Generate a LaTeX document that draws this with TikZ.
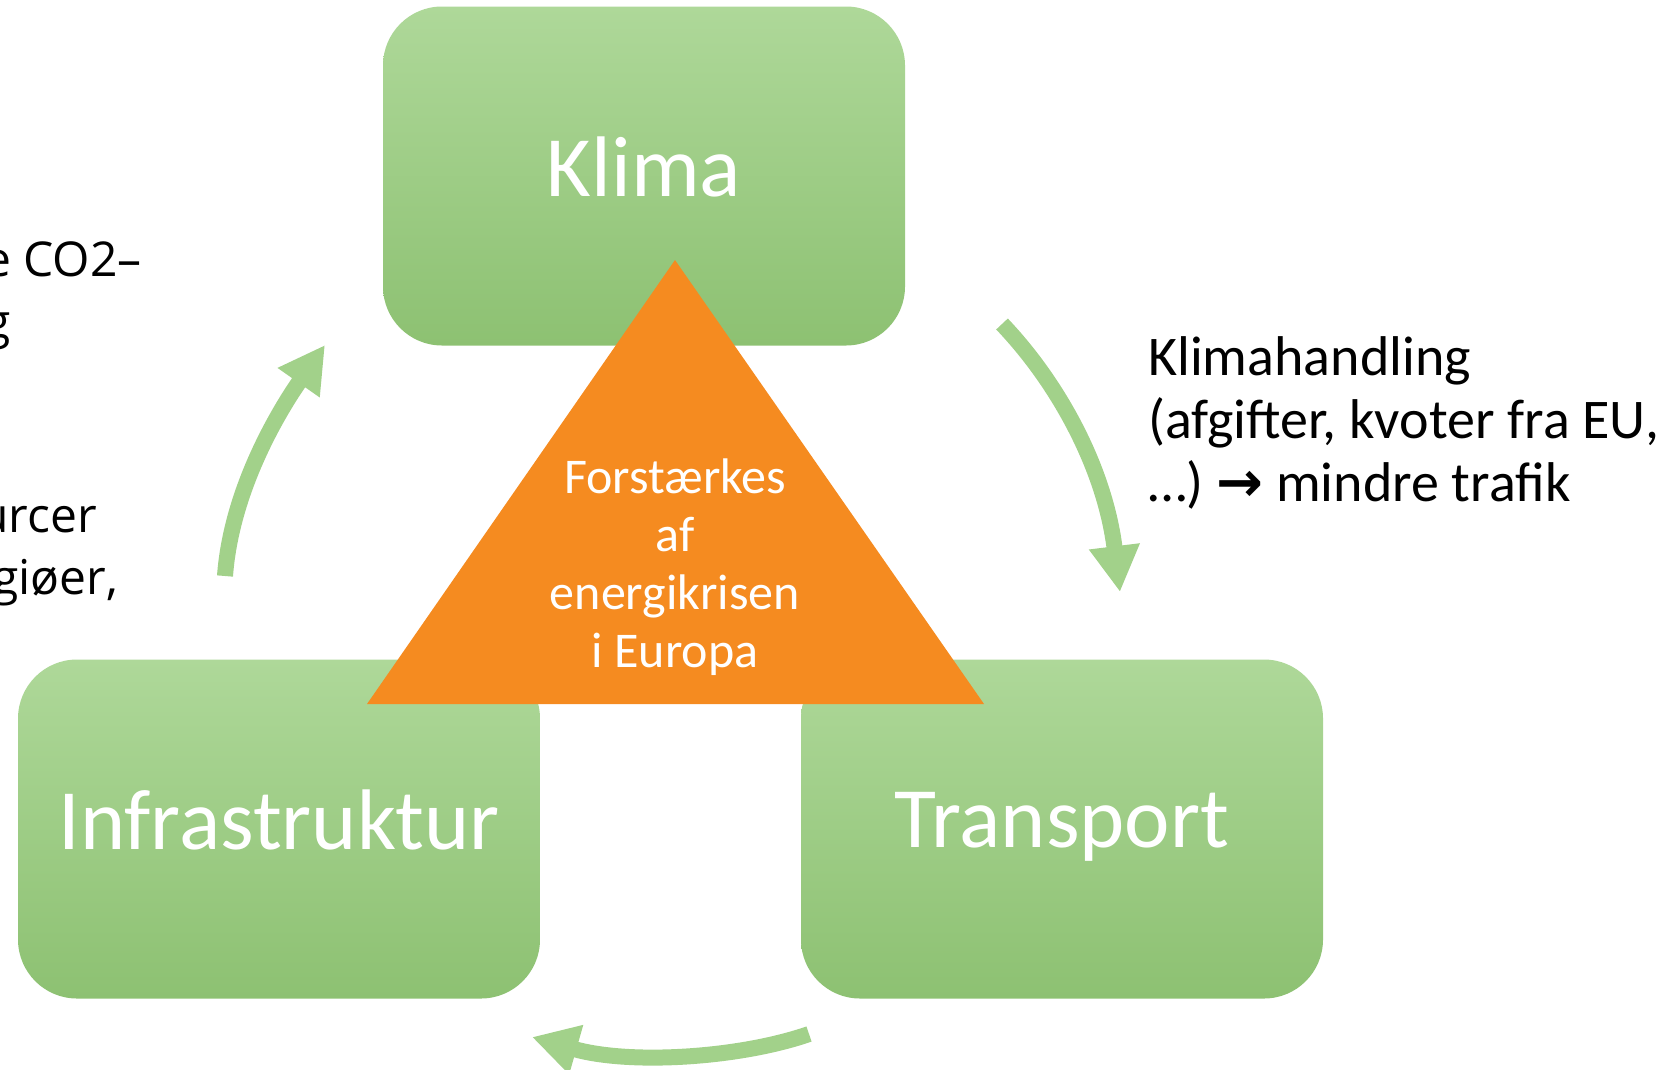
\documentclass[tikz,border=0pt]{standalone}
\usepackage{fontspec}
\setmainfont{Carlito}
\newfontfamily\notefont{Open Sans}
\newfontfamily\arrowfont{DejaVu Sans}
\usepackage{tikz}
\usetikzlibrary{arrows.meta}
\definecolor{boxTop}{HTML}{AED899}
\definecolor{boxBottom}{HTML}{8DC172}
\definecolor{cycleGreen}{HTML}{A2D18A}
\definecolor{crisisOrange}{HTML}{F58B20}
\tikzset{
  topic/.style={rounded corners=59pt, minimum width=522pt, minimum height=339pt,
    top color=boxTop, bottom color=boxBottom, text=white, inner sep=0pt, text depth=18pt,
    font=\fontsize{86}{100}\selectfont},
  cyclearrow/.style={line width=16pt, draw=cycleGreen, -{Triangle[length=46pt,width=48pt]}},
  fragment/.style={anchor=base east, inner sep=0pt, font=\notefont\fontsize{48}{62}\selectfont},
}

\begin{document}
\begin{tikzpicture}[x=1pt,y=-1pt]
        \useasboundingbox (0,0) rectangle (1680,1069);

        % the three themes
        \node[topic] (klima)     at ( 644,176) {Klima};
        \node[topic] (infra)     at ( 279,829) {Infrastruktur};
        \node[topic] (transport) at (1062,829) {Transport};

        % the crisis in the middle
        \coordinate (apex)  at (675,260);
        \coordinate (baseL) at (367,704);
        \coordinate (baseR) at (984,704);
        \fill[crisisOrange] (apex) -- (baseL) -- (baseR) -- cycle;
        \node[text=white, align=center, inner sep=0pt, font=\fontsize{50}{58}\selectfont]
            (crisis) at (675,567) {Forstærkes\\af\\energikrisen\\i Europa};

        % the cycle
        \coordinate (infraTail)     at ( 225, 576);
        \coordinate (klimaTip)      at ( 325, 345);
        \coordinate (klimaTail)     at (1002, 324);
        \coordinate (transportTip)  at (1120, 592);
        \coordinate (transportTail) at ( 809,1034);
        \coordinate (infraTip)      at ( 532,1037);
        \draw[cyclearrow] (infraTail) .. controls (232,480) and (290,395) .. (klimaTip);
        \draw[cyclearrow] (klimaTail) .. controls (1060,385) and (1105,470) .. (transportTip);
        \draw[cyclearrow] (transportTail) .. controls (740,1058) and (630,1065) .. (infraTip);

        % notes
        \node[anchor=north west, inner sep=0pt, align=left, font=\fontsize{56}{63}\selectfont]
            (action) at (1148,336) {Klimahandling\\(afgifter, kvoter fra EU,\\…) {\arrowfont\bfseries →} mindre trafik};
        \node[fragment] (co2)  at (142,276) {e CO2–};
        \node[fragment] (co2b) at ( 11,338) {g};
        \node[fragment] (res)  at ( 97,532) {urcer};
        \node[fragment] (resb) at (118,594) {giøer,};
    \end{tikzpicture}
\end{document}
